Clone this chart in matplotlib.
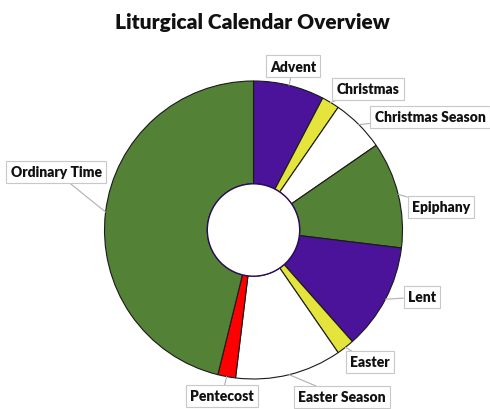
import numpy as np
import matplotlib
matplotlib.use("Agg")
import matplotlib.pyplot as plt

plt.rcParams["font.family"] = ["Lato", "DejaVu Sans"]

# weeks of the liturgical year
seasons = ["Advent", "Christmas", "Christmas Season", "Epiphany", "Lent",
           "Easter", "Easter Season", "Pentecost", "Ordinary Time"]
weeks = [4, 1, 3, 6, 6, 1, 6, 1, 24]
colors = ["#4A1399", "#E4E43C", "#FFFFFF", "#538135", "#4A1399",
          "#E4E43C", "#FFFFFF", "#FF0000", "#538135"]

# label box centres in pixel space (layout only)
label_pos = [(293, 67), (368, 90), (430, 118), (441, 208), (422, 298),
             (370, 363), (342, 398), (222, 397), (56, 173)]

W, H = 490, 410
fig = plt.figure(figsize=(W / 100, H / 100), dpi=100)
ax = fig.add_axes([0, 0, 1, 1])

cx, cy, R = 253.5, H - 231, 149
wedges, _ = ax.pie(weeks, colors=colors, startangle=90, counterclock=False,
                   center=(cx, cy), radius=R, frame=True,
                   wedgeprops=dict(width=R * 0.69, edgecolor="#1a1a1a",
                                   linewidth=0.8))
ax.set_xlim(0, W)
ax.set_ylim(0, H)
ax.set_aspect("equal")
ax.axis("off")

# dark rim around the hole
hole = plt.Circle((cx, cy), R * 0.31, facecolor="white", edgecolor="#2a0a5a",
                  linewidth=1.0, zorder=3)
ax.add_patch(hole)

for w, name, (lx, ly) in zip(wedges, seasons, label_pos):
    mid = np.deg2rad((w.theta1 + w.theta2) / 2)
    px, py = cx + R * np.cos(mid), cy + R * np.sin(mid)
    ax.annotate(name, xy=(px, py), xytext=(lx, H - ly), textcoords="data",
                ha="center", va="center", fontsize=10, fontweight="heavy",
                color="#111111",
                bbox=dict(boxstyle="square,pad=0.3", facecolor="white",
                          edgecolor="#C8C8C8", linewidth=0.8),
                arrowprops=dict(arrowstyle="-", color="#B0B0B0", lw=0.8,
                                shrinkA=0, shrinkB=0))

fig.text(252 / W, 1 - 22 / H, "Liturgical Calendar Overview", ha="center",
         va="center", fontsize=15, fontweight="heavy", color="#111111")

fig.savefig("out.png", dpi=100)
